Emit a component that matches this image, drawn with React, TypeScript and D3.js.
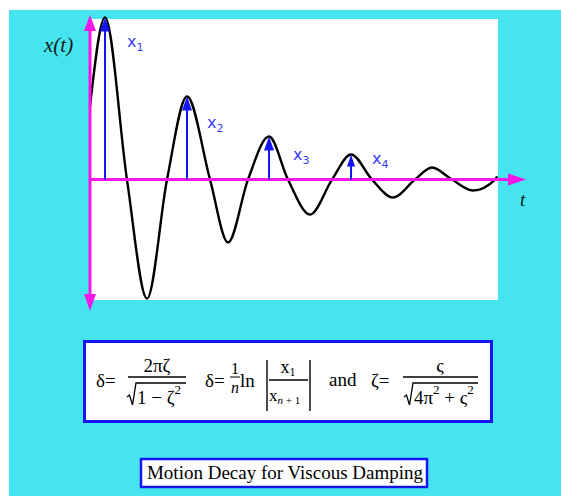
import React from "react";
import * as d3 from "d3";

// Damped response x(t): sampled extrema and zero crossings
const tValues = [0, 0.184, 0.453, 0.699, 0.944, 1.189, 1.471, 1.691, 1.936, 2.194, 2.426, 2.696, 2.966, 3.199, 3.456, 3.713, 3.983, 4.191, 4.436, 4.694, 4.963, 4.99];
const xValues = [0.455, 1.01, 0, -0.741, 0, 0.517, 0, -0.392, 0, 0.268, 0, -0.218, 0, 0.156, 0, -0.112, 0, 0.075, 0, -0.068, 0, 0.02];

// Successive peaks x1..x4 (indices into the samples above)
const peakIndex = [1, 5, 9, 13];
const peakNames = ["1", "2", "3", "4"];
const labelDx = [22, 20, 24, 21];
const labelDy = [30, 31, 23, 9];

const W = 561;
const H = 496;

const xScale = d3.scaleLinear().domain([0, 5]).range([90, 498]);
const yScale = d3.scaleLinear().domain([-0.75, 1.0]).range([300, 19]);

const CYAN = "#46e4ee";
const PINK = "#f516e8";
const BLUE = "#1414f5";
const LABEL_BLUE = "#3a3aff";
const SERIF = "'Liberation Serif', 'DejaVu Serif', serif";

export default function App() {
  const pts: [number, number][] = tValues.map((t, i) => [t, xValues[i]]);
  const line = d3
    .line<[number, number]>()
    .x((d) => xScale(d[0]))
    .y((d) => yScale(d[1]))
    .curve(d3.curveMonotoneX);

  const x0 = xScale(0);
  const y0 = yScale(0);

  const radical = (x: number, yBase: number, yTop: number, x2: number) =>
    `M${x},${yBase - 7} L${x + 2.5},${yBase - 9} L${x + 5.5},${yBase + 1} L${x + 9},${yTop} L${x2},${yTop}`;

  return (
    <svg
      width={W}
      height={H}
      style={{ position: "absolute", left: 0, top: 0 }}
      xmlns="http://www.w3.org/2000/svg"
    >
      <rect x={0} y={0} width={W} height={H} fill="#ffffff" />
      <rect x={9} y={10} width={W - 9} height={H - 10} fill={CYAN} />
      <rect x={x0} y={19} width={498 - x0} height={281} fill="#ffffff" />

      {/* response curve */}
      <path d={line(pts) || ""} fill="none" stroke="#000" strokeWidth={2.4} />

      {/* axes */}
      <line x1={x0} y1={28} x2={x0} y2={298} stroke={PINK} strokeWidth={3} />
      <polygon points={`${x0},15 ${x0 - 6},31 ${x0 + 6},31`} fill={PINK} />
      <polygon points={`${x0},311 ${x0 - 6},294 ${x0 + 6},294`} fill={PINK} />
      <line x1={x0} y1={y0} x2={512} y2={y0} stroke={PINK} strokeWidth={3} />
      <polygon points={`526,${y0} 508,${y0 - 6} 508,${y0 + 6}`} fill={PINK} />

      {/* peak markers */}
      {peakIndex.map((idx, i) => {
        const px = xScale(tValues[idx]);
        const py = yScale(xValues[idx]);
        const hw = i === 3 ? 4 : 5;
        const hh = i === 3 ? 12 : 14;
        return (
          <g key={i}>
            <line x1={px} y1={y0} x2={px} y2={py + hh - 2} stroke={BLUE} strokeWidth={2} />
            <polygon
              points={`${px},${py} ${px - hw},${py + hh} ${px + hw},${py + hh}`}
              fill={BLUE}
            />
            <text
              x={px + labelDx[i]}
              y={py + labelDy[i]}
              fill={LABEL_BLUE}
              fontFamily="'DejaVu Sans', Verdana, sans-serif"
              fontSize={16}
            >
              x
              <tspan fontSize={11} dy={4}>
                {peakNames[i]}
              </tspan>
            </text>
          </g>
        );
      })}

      {/* axis titles */}
      <text x={44} y={52} fontFamily={SERIF} fontStyle="italic" fontSize={21} fill="#102018">
        x(t)
      </text>
      <text x={520} y={206} fontFamily={SERIF} fontStyle="italic" fontSize={19} fill="#102018">
        t
      </text>

      {/* formula panel */}
      <rect x={84.5} y={341.5} width={407} height={80} fill="#fff" stroke={BLUE} strokeWidth={3} />
      <g fontFamily={SERIF} fontSize={19} fill="#000">
        {/* δ = 2πζ / sqrt(1 - ζ²) */}
        <text x={96} y={387}>δ=</text>
        <text x={157} y={372} textAnchor="middle">2πζ</text>
        <line x1={128} y1={377} x2={186} y2={377} stroke="#000" strokeWidth={1.4} />
        <path d={radical(127, 404, 383, 186)} fill="none" stroke="#000" strokeWidth={1.3} />
        <text x={137} y={404}>
          1 − ζ<tspan fontSize={13} dy={-10}>2</tspan>
        </text>

        {/* δ = (1/n) ln |x1 / x(n+1)| */}
        <text x={205} y={387}>δ=</text>
        <text x={235} y={374} textAnchor="middle" fontSize={16}>1</text>
        <line x1={230} y1={377} x2={240} y2={377} stroke="#000" strokeWidth={1} />
        <text x={235} y={393} textAnchor="middle" fontSize={16} fontStyle="italic">n</text>
        <text x={240} y={387}>ln</text>
        <line x1={267} y1={360} x2={267} y2={411} stroke="#000" strokeWidth={1.4} />
        <line x1={310} y1={360} x2={310} y2={411} stroke="#000" strokeWidth={1.4} />
        <text x={288} y={373} textAnchor="middle" fontSize={18}>
          x<tspan fontSize={12} dy={3}>1</tspan>
        </text>
        <line x1={269} y1={380} x2={308} y2={380} stroke="#000" strokeWidth={1.4} />
        <text x={269} y={401} fontSize={17}>
          x<tspan fontSize={11} dy={3}>
            <tspan fontStyle="italic">n</tspan> + 1
          </tspan>
        </text>

        {/* and ζ = ς / sqrt(4π² + ς²) */}
        <text x={329} y={386}>and</text>
        <text x={371} y={387}>ζ=</text>
        <text x={440} y={372} textAnchor="middle">ς</text>
        <line x1={403} y1={377} x2={478} y2={377} stroke="#000" strokeWidth={1.4} />
        <path d={radical(404, 404, 383, 478)} fill="none" stroke="#000" strokeWidth={1.3} />
        <text x={414} y={404}>
          4π<tspan fontSize={13} dy={-10}>2</tspan>
          <tspan dy={10}> + ς</tspan>
          <tspan fontSize={13} dy={-10}>2</tspan>
        </text>
      </g>

      {/* caption */}
      <rect x={141} y={459} width={286} height={28} fill="#fff" stroke={BLUE} strokeWidth={2.5} />
      <text x={285} y={479} textAnchor="middle" fontFamily={SERIF} fontSize={19} fill="#000">
        Motion Decay for Viscous Damping
      </text>
    </svg>
  );
}
